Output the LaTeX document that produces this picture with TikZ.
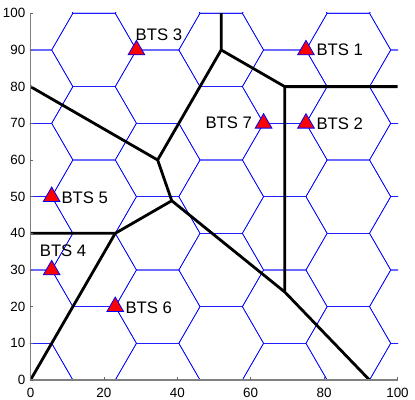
\documentclass[tikz,border=0pt]{standalone}
\usepackage{fontspec}
\setmainfont{Liberation Sans}
\usetikzlibrary{shapes.geometric}
\begin{document}
\begin{tikzpicture}[x=3.67pt,y=3.667pt,
  hexline/.style={draw=blue, line width=0.6pt},
  cellline/.style={draw=black, line width=2.8pt, line cap=round, line join=round},
  axisline/.style={draw=black!50, line width=1.1pt},
  tickline/.style={draw=black!60, line width=0.8pt},
  btsmark/.style={regular polygon, regular polygon sides=3, minimum size=19.2pt, inner sep=0pt, fill=red, draw=blue, line width=0.8pt},
  btslabel/.style={anchor=base west, inner sep=0pt, font=\fontsize{16.7}{18}\selectfont},
  ticklabel/.style={inner sep=0pt, font=\fontsize{13.4}{15}\selectfont}]
\useasboundingbox (-30.5pt,-19pt) rectangle (384.5pt,380pt);

% hexagonal cell grid
\begin{scope}
\clip (-0.2,-0.2) rectangle (100.2,100.2);
\foreach \k in {0,...,6} {
  \pgfmathsetmacro\cx{17.3205*\k}
  \pgfmathsetmacro\off{mod(\k,2)==1 ? 10 : 0}
  \foreach \j in {-1,...,6} {
    \pgfmathsetmacro\cy{\off+20*\j}
    \draw[hexline] (\cx,\cy) ++(0:11.547) -- ++(120:11.547) -- ++(180:11.547) -- ++(240:11.547) -- ++(300:11.547) -- ++(0:11.547) -- cycle;
  }
}
\end{scope}

% Voronoi vertices
\coordinate (V1) at (51.96,90);
\coordinate (V2) at (69.28,80);
\coordinate (V3) at (69.28,24);
\coordinate (V4) at (34.64,60);
\coordinate (V5) at (38.49,48.89);
\coordinate (V6) at (23.09,40);
\coordinate (T1) at (51.96,100);
\coordinate (R1) at (100,80);
\coordinate (B1) at (92.37,0);
\coordinate (L1) at (0,80);
\coordinate (L2) at (0,40);
\coordinate (O) at (0,0);

\begin{scope}
\clip (0,0) rectangle (100,100);
\draw[cellline] (T1) -- (V1) -- (V2) -- (R1);
\draw[cellline] (V2) -- (V3) -- (B1);
\draw[cellline] (V1) -- (V4) -- (L1);
\draw[cellline] (V4) -- (V5) -- (V3);
\draw[cellline] (V5) -- (V6) -- (L2);
\draw[cellline] (V6) -- (O);
\end{scope}

% axes
\coordinate (xend) at (100,0);
\coordinate (yend) at (0,100);
\draw[axisline] (yend) -- (O) -- (xend);
\foreach \x in {0,20,...,100} {
  \draw[tickline] (\x,0) -- ++(0,3pt);
  \node[ticklabel, anchor=north, yshift=-8pt] (xl\x) at (\x,0) {\x};
}
\foreach \y in {0,10,...,100} {
  \draw[tickline] (0,\y) -- ++(3pt,0);
  \node[ticklabel, anchor=east, xshift=-5pt] (yl\y) at (0,\y) {\y};
}

% base stations
\node[btsmark] (b1) at (75.06,90) {};
\node[btsmark] (b2) at (75.06,70) {};
\node[btsmark] (b3) at (28.87,90) {};
\node[btsmark] (b4) at (5.77,30) {};
\node[btsmark] (b5) at (5.77,50) {};
\node[btsmark] (b6) at (23.09,20) {};
\node[btsmark] (b7) at (63.51,70) {};

\node[btslabel] (t1) at (77.9,88.36) {BTS 1};
\node[btslabel] (t2) at (77.9,68.36) {BTS 2};
\node[btslabel] (t3) at (28.6,92.53) {BTS 3};
\node[btslabel] (t4) at (2.5,33.8) {BTS 4};
\node[btslabel] (t5) at (8.42,48.2) {BTS 5};
\node[btslabel] (t6) at (25.86,18.0) {BTS 6};
\node[btslabel] (t7) at (47.65,68.6) {BTS 7};
\end{tikzpicture}
\end{document}
